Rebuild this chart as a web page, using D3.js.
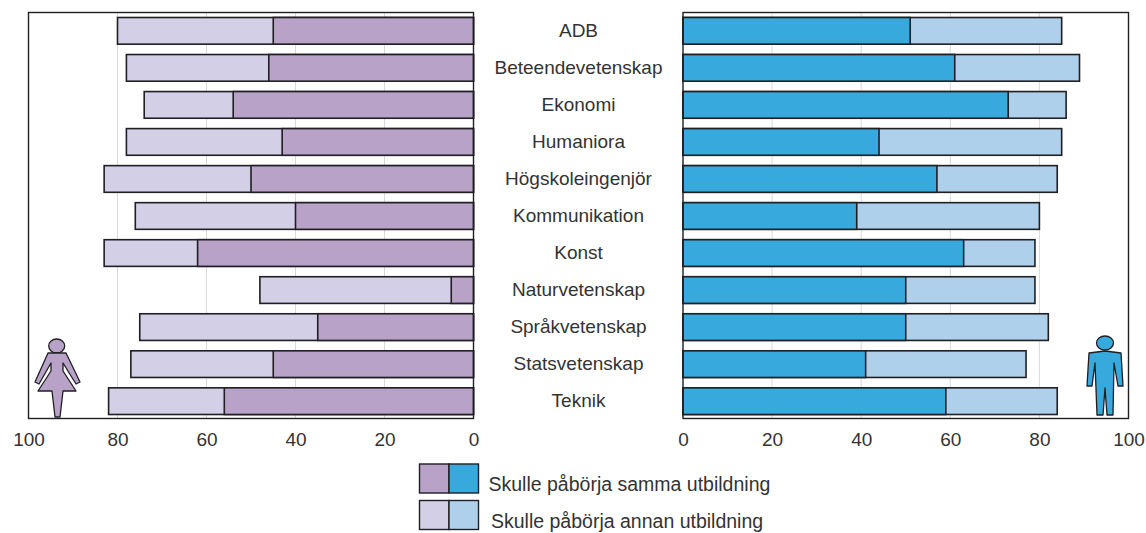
<!DOCTYPE html>
<html>
<head>
<meta charset="utf-8">
<script src="https://cdn.jsdelivr.net/npm/d3@7"></script>
<style>
body { margin: 0; background: #fff; }
text { font-family: "Liberation Sans", sans-serif; fill: #333; font-size: 19px; }
</style>
</head>
<body>
<script>
var categories = ["ADB", "Beteendevetenskap", "Ekonomi", "Humaniora", "Högskoleingenjör",
    "Kommunikation", "Konst", "Naturvetenskap", "Språkvetenskap", "Statsvetenskap", "Teknik"];
var womenSame = [45, 46, 54, 43, 50, 40, 62, 5, 35, 45, 56];
var womenTotal = [80, 78, 74, 78, 83, 76, 83, 48, 75, 77, 82];
var menSame = [51, 61, 73, 44, 57, 39, 63, 50, 50, 41, 59];
var menTotal = [85, 89, 86, 85, 84, 80, 79, 79, 82, 77, 84];
var ticks = [0, 20, 40, 60, 80, 100];
var legendLabels = ["Skulle påbörja samma utbildning", "Skulle påbörja annan utbildning"];

var width = 1146, height = 533;
var frameTop = 12.5, frameBottom = 418.5;
var ink = "#1f1f24";

var svg = d3.select("body").append("svg")
    .attr("width", width)
    .attr("height", height)
    .style("display", "block");

var y = d3.scaleBand()
    .domain(categories)
    .range([17.5, 414.5])
    .paddingInner(0.28);

var xWomen = d3.scaleLinear().domain([100, 0]).range([28.5, 473.5]);
var xMen = d3.scaleLinear().domain([0, 100]).range([683, 1128.5]);

function panel(x, same, total, darkColor, lightColor) {
    var g = svg.append("g");

    g.selectAll(".grid")
        .data(ticks.slice(1, 5))
        .enter().append("line")
        .attr("x1", function(d) { return x(d); })
        .attr("x2", function(d) { return x(d); })
        .attr("y1", frameTop)
        .attr("y2", frameBottom)
        .attr("stroke", "#d9d9d9")
        .attr("stroke-width", 1);

    // light part first, the dark one sits from zero on top of it
    g.selectAll(".total")
        .data(categories)
        .enter().append("rect")
        .attr("x", function(d, i) { return Math.min(x(0), x(total[i])); })
        .attr("y", function(d) { return y(d); })
        .attr("width", function(d, i) { return Math.abs(x(total[i]) - x(0)); })
        .attr("height", y.bandwidth())
        .attr("fill", lightColor)
        .attr("stroke", ink)
        .attr("stroke-width", 1.6);

    g.selectAll(".same")
        .data(categories)
        .enter().append("rect")
        .attr("x", function(d, i) { return Math.min(x(0), x(same[i])); })
        .attr("y", function(d) { return y(d); })
        .attr("width", function(d, i) { return Math.abs(x(same[i]) - x(0)); })
        .attr("height", y.bandwidth())
        .attr("fill", darkColor)
        .attr("stroke", ink)
        .attr("stroke-width", 1.6);

    g.append("rect")
        .attr("x", Math.min(x.range()[0], x.range()[1]))
        .attr("y", frameTop)
        .attr("width", Math.abs(x.range()[1] - x.range()[0]))
        .attr("height", frameBottom - frameTop)
        .attr("fill", "none")
        .attr("stroke", ink)
        .attr("stroke-width", 1.4);

    var axis = g.append("g")
        .attr("transform", "translate(0," + frameBottom + ")")
        .call(d3.axisBottom(x).tickValues(ticks).tickSize(0).tickPadding(14));
    axis.select(".domain").remove();
    axis.selectAll("text").style("font-size", "19px").style("font-family", null);
}

panel(xWomen, womenSame, womenTotal, "#b9a2c8", "#d2cfe6");
panel(xMen, menSame, menTotal, "#37a9dc", "#afd0ea");

svg.selectAll(".cat")
    .data(categories)
    .enter().append("text")
    .attr("x", 578.5)
    .attr("y", function(d) { return y(d) + y.bandwidth() / 2; })
    .attr("dy", "0.32em")
    .attr("text-anchor", "middle")
    .text(function(d) { return d; });

// woman icon
var woman = svg.append("g")
    .attr("fill", "#b9a2c8")
    .attr("stroke", ink)
    .attr("stroke-width", 1.3)
    .attr("stroke-linejoin", "round");
woman.append("ellipse").attr("cx", 56.7).attr("cy", 346).attr("rx", 8).attr("ry", 7);
woman.append("path").attr("d", "M48 353 L66 353 L80 382 L76 384 L63 363 L63 371 L76 391 L63 391 L60 417 L55 417 L52 391 L38 391 L51 371 L51 363 L39 384 L35 382 Z");

// man icon
var man = svg.append("g")
    .attr("fill", "#37a9dc")
    .attr("stroke", ink)
    .attr("stroke-width", 1.3)
    .attr("stroke-linejoin", "round");
man.append("ellipse").attr("cx", 1105).attr("cy", 343).attr("rx", 8.5).attr("ry", 7);
man.append("path").attr("d", "M1089 353 L1105 351 L1121 353 L1123 386 L1118 386 L1114 363 L1113 415 L1107 415 L1105 388 L1103 415 L1097 415 L1095 363 L1092 386 L1087 386 Z");

// legend
var swatchColors = [["#b9a2c8", "#37a9dc"], ["#d2cfe6", "#afd0ea"]];
var legend = svg.selectAll(".legend")
    .data(legendLabels)
    .enter().append("g")
    .attr("transform", function(d, i) { return "translate(419.5," + (464 + i * 36.5) + ")"; });
legend.each(function(d, i) {
    var row = d3.select(this);
    swatchColors[i].forEach(function(c, j) {
        row.append("rect")
            .attr("x", j * 29.5)
            .attr("width", 29.5)
            .attr("height", 29)
            .attr("fill", c)
            .attr("stroke", ink)
            .attr("stroke-width", 1.4);
    });
    row.append("text")
        .attr("x", i === 0 ? 69 : 71.5)
        .attr("y", i === 0 ? 27 : 27.5)
        .style("font-size", "19.5px")
        .text(d);
});
</script>
</body>
</html>
